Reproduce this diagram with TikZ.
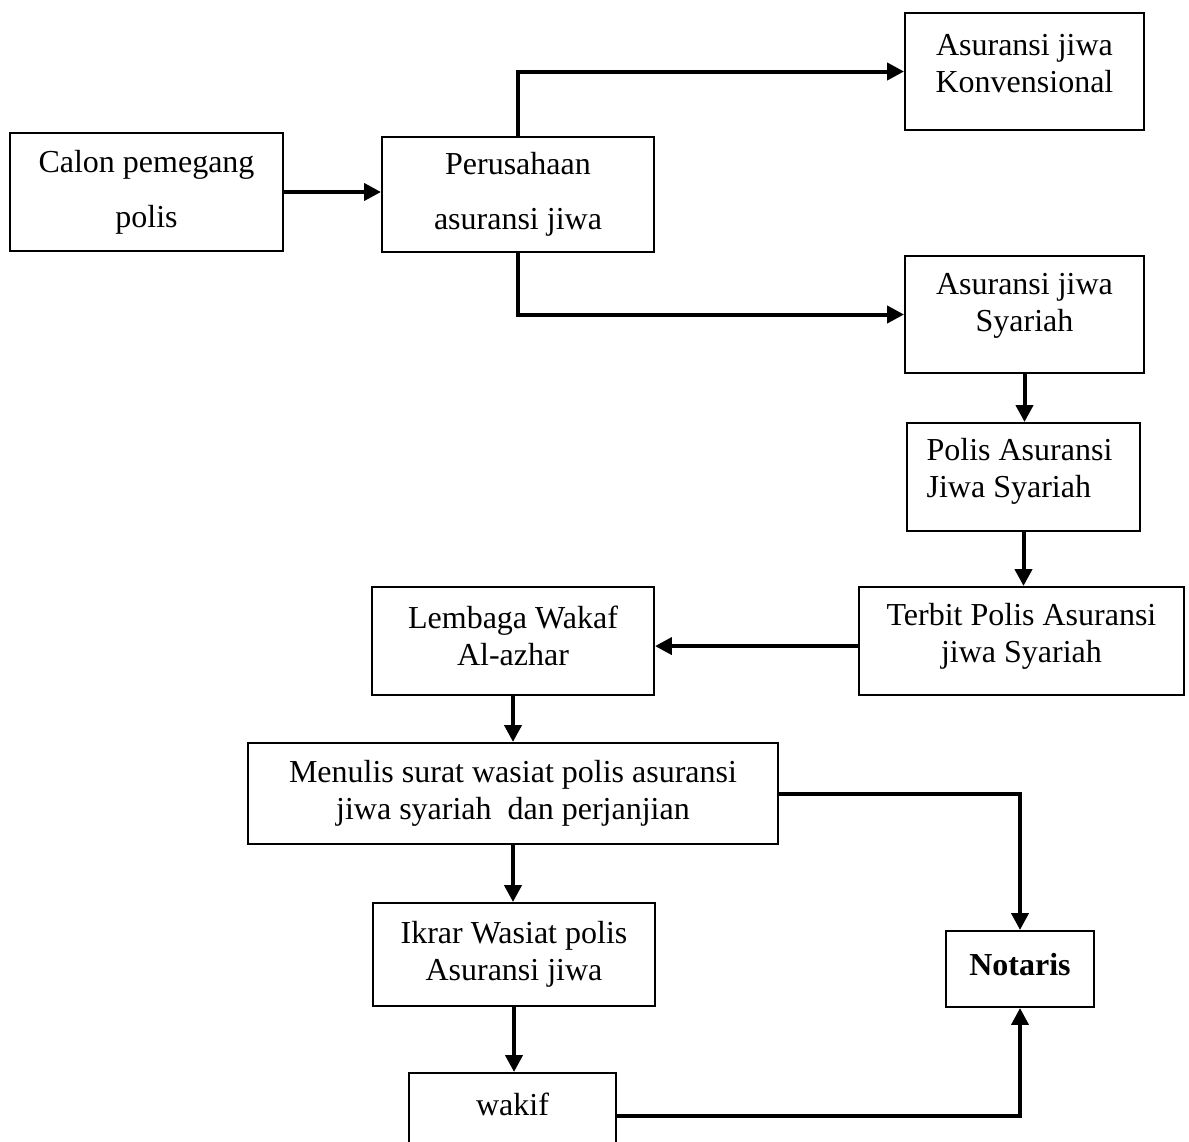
\documentclass[tikz,border=0pt]{standalone}
\usepackage{fontspec}
\setmainfont{Liberation Serif}
\usetikzlibrary{arrows.meta,positioning}

\begin{document}
\begin{tikzpicture}[x=0.375pt,y=-0.375pt,
    kotak/.style={draw, line width=0.75pt, inner sep=0pt},
    isi/.style={align=center, font=\fontsize{12}{13.9}\selectfont},
    panah/.style={line width=1.5pt, -{Triangle[length=6.3pt,width=6.3pt]}}]
  \useasboundingbox (0,0) rectangle (1189,1142);

  % baris atas
  \node[kotak, isi, minimum width=102.4pt, minimum height=44.25pt] (calon) at (146.5,192) {Calon pemegang\\[6.75pt]polis};
  \node[kotak, isi, minimum width=102pt, minimum height=43.1pt] (perusahaan) at (518,194.5) {Perusahaan\\[6.75pt]asuransi jiwa};
  \node[kotak, minimum width=89.6pt, minimum height=43.9pt,
        label={[isi, yshift=3pt]center:{Asuransi jiwa\\Konvensional}}] (konv) at (1024.5,71.5) {};
  \node[kotak, minimum width=89.6pt, minimum height=43.9pt,
        label={[isi, yshift=3.4pt]center:{Asuransi jiwa\\Syariah}}] (syariah) at (1024.5,314.5) {};

  % kolom kanan
  \node[kotak, minimum width=87.4pt, minimum height=40.5pt,
        label={[isi, align=left, xshift=-1.5pt, yshift=2.25pt]center:{Polis Asuransi\\Jiwa Syariah}}] (polis) at (1023.5,477) {};
  \node[kotak, minimum width=121.9pt, minimum height=40.5pt,
        label={[isi, yshift=1.9pt]center:{Terbit Polis Asuransi\\jiwa Syariah}}] (terbit) at (1021.5,641) {};
  \node[kotak, minimum width=105.75pt, minimum height=40.5pt,
        label={[isi, yshift=1.9pt]center:{Lembaga Wakaf\\Al-azhar}}] (lembaga) at (513,641) {};

  % bagian bawah
  \node[kotak, isi, minimum width=198.75pt, minimum height=37.9pt] (menulis) at (513,793.5) {Menulis surat wasiat polis asuransi\\jiwa syariah~ dan perjanjian};
  \node[kotak, isi, minimum width=105.75pt, minimum height=38.6pt] (ikrar) at (514,954.5) {Ikrar Wasiat polis\\Asuransi jiwa};
  \node[kotak, minimum width=55.5pt, minimum height=28.5pt,
        label={[isi, yshift=1.5pt]center:{\textbf{Notaris}}}] (notaris) at (1020,969) {};
  \node[kotak, minimum width=77.6pt, minimum height=32.25pt,
        label={[isi, yshift=4.5pt]center:{wakif}}] (wakif) at (512.5,1116) {};
  \coordinate (terbit-kiri) at ([yshift=-1.9pt]terbit.west);

  % panah
  \draw[panah] (calon.east) -- (calon.east -| perusahaan.west);
  \draw[panah] (perusahaan.north) |- (konv.west);
  \draw[panah] (perusahaan.south) |- (syariah.west);
  \draw[panah] (syariah.south) -- (syariah.south |- polis.north);
  \draw[panah] (polis.south) -- (polis.south |- terbit.north);
  \draw[panah] (terbit-kiri) -- (terbit-kiri -| lembaga.east);
  \draw[panah] (lembaga.south) -- (lembaga.south |- menulis.north);
  \draw[panah] (menulis.east) -| (notaris.north);
  \draw[panah] (menulis.south) -- (menulis.south |- ikrar.north);
  \draw[panah] (ikrar.south) -- (ikrar.south |- wakif.north);
  \draw[panah] (wakif.east) -| (notaris.south);
\end{tikzpicture}
\end{document}
